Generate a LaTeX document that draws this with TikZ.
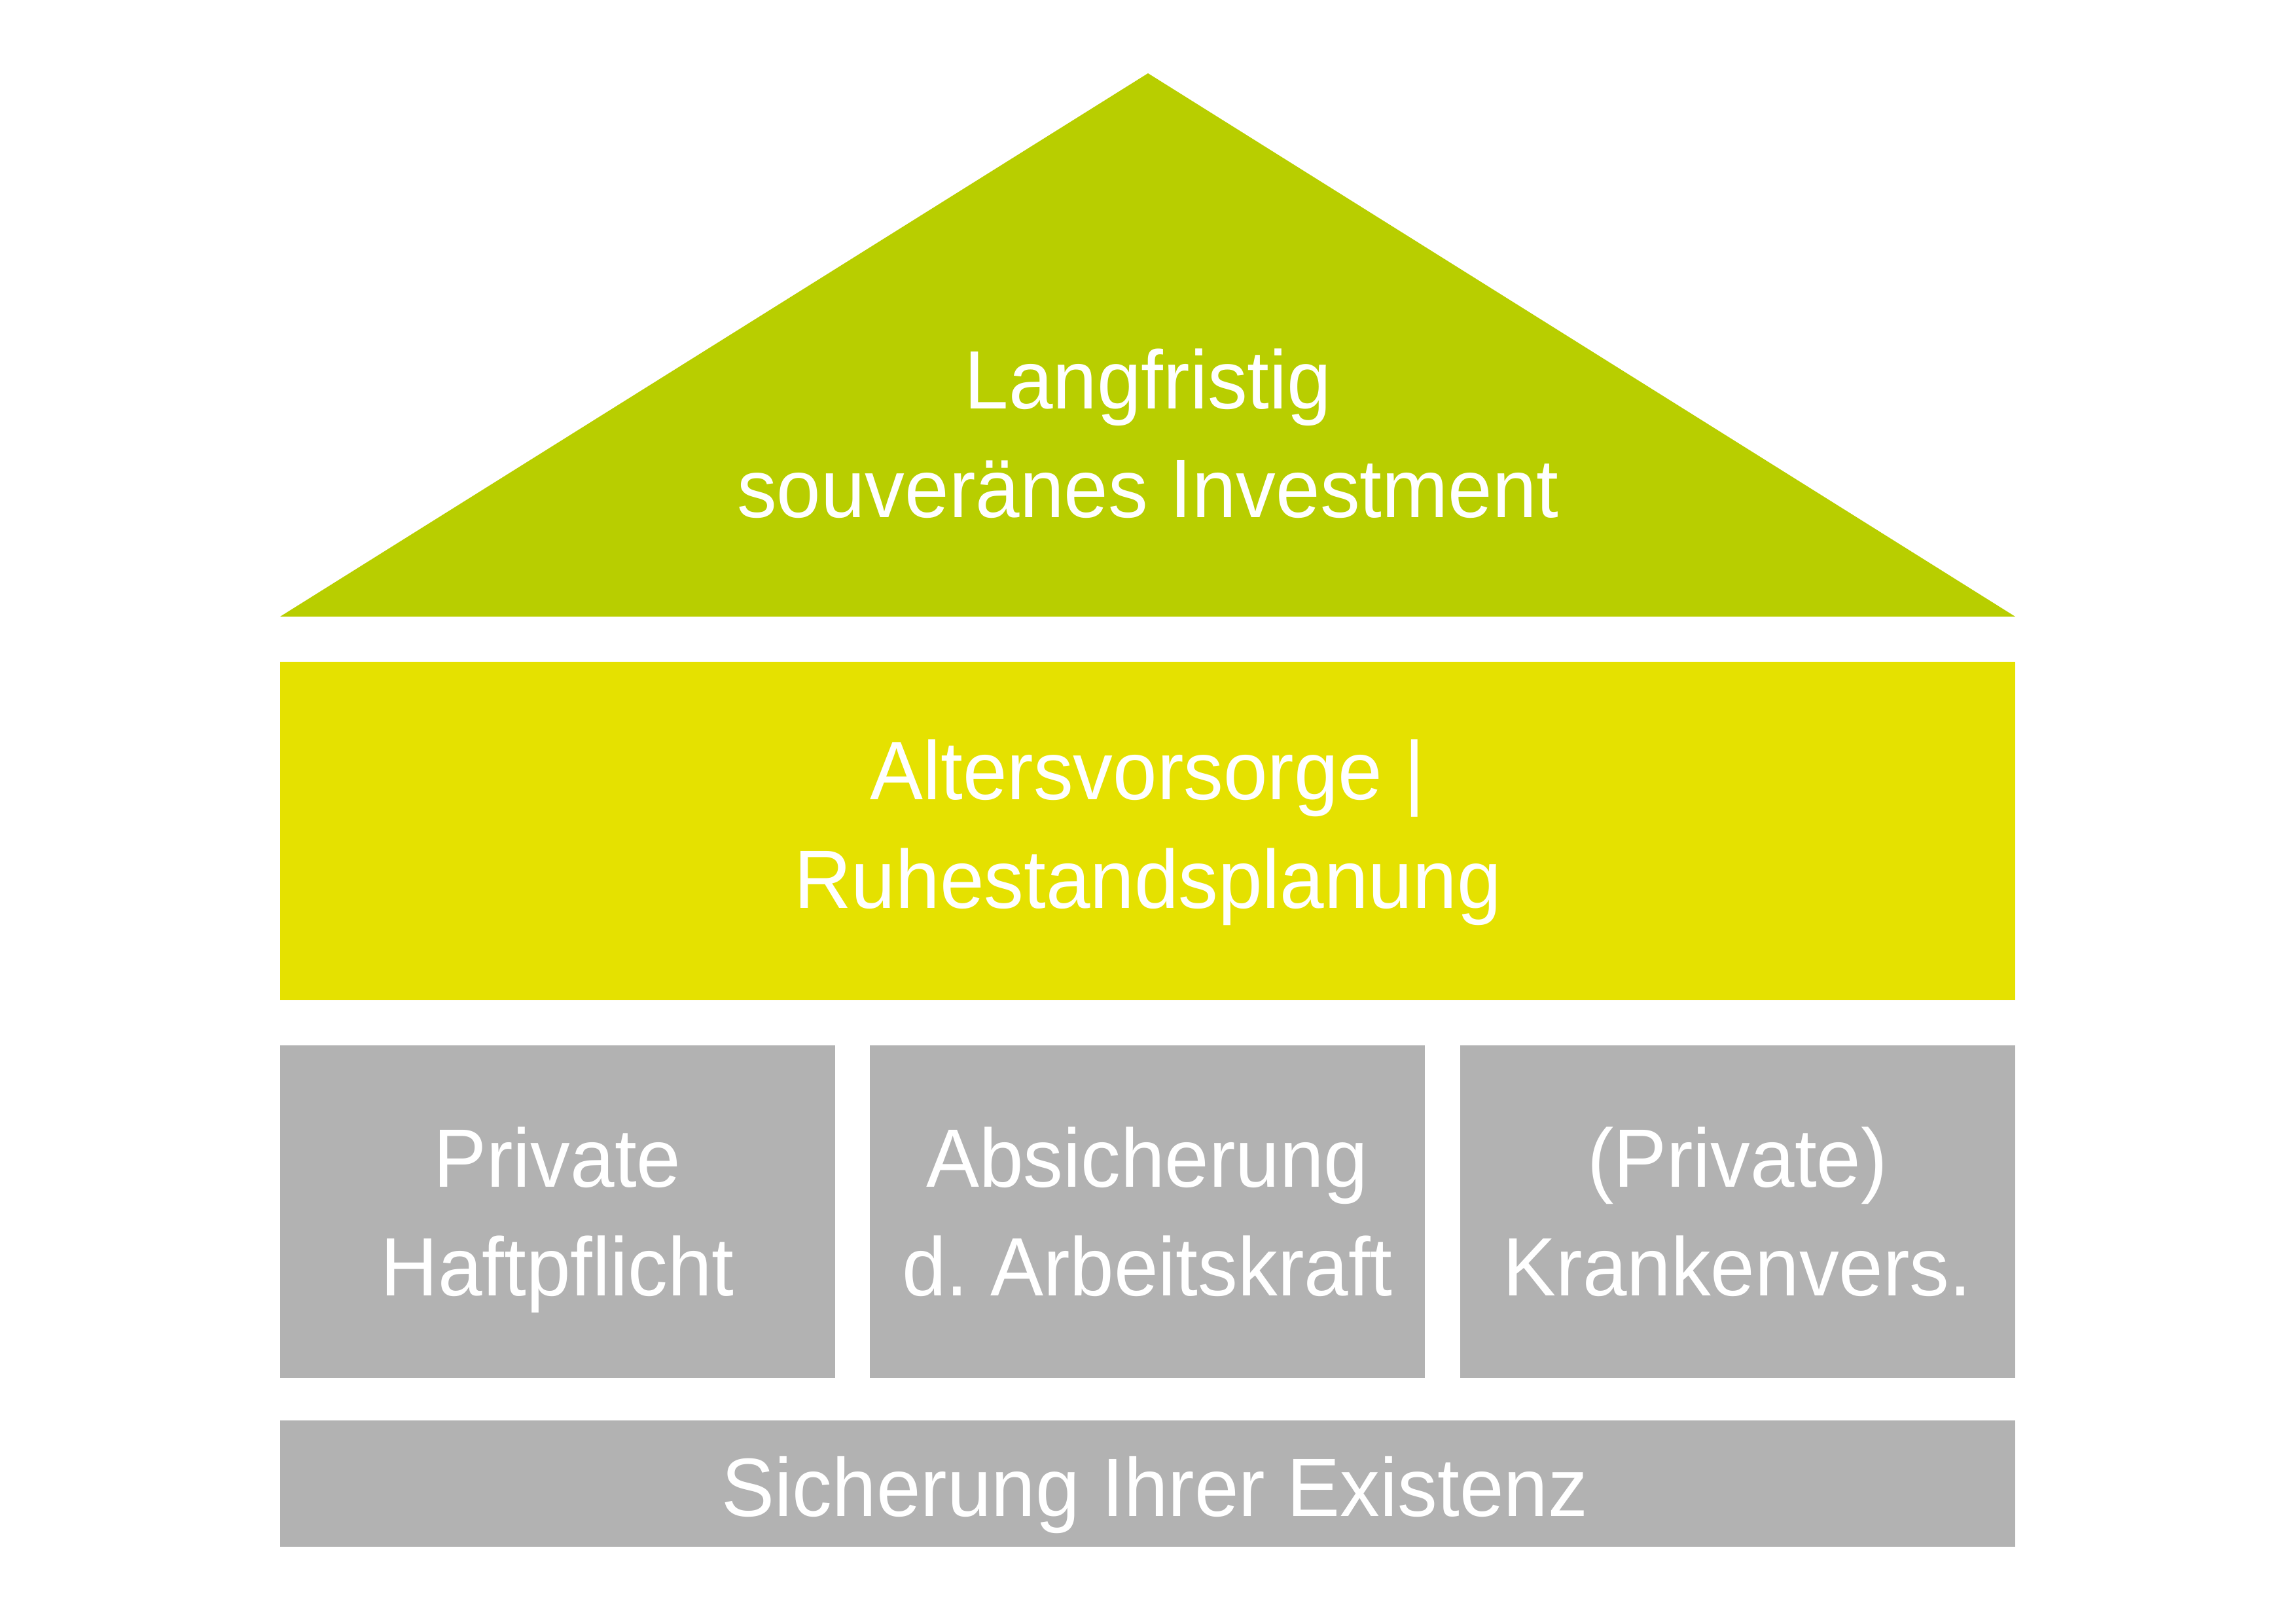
\documentclass[tikz,border=0pt]{standalone}
\usepackage{fontspec}
\setmainfont{Liberation Sans}[FakeStretch=0.96]
\usepackage{tikz}
\usetikzlibrary{positioning}
\frenchspacing

\definecolor{roofgreen}{HTML}{B8CE00}
\definecolor{flooryellow}{HTML}{E5E100}
\definecolor{pillargray}{HTML}{B2B2B2}

\tikzset{
	housetext/.style={text=white,align=center,inner sep=0pt,text depth=0pt,font=\fontsize{36pt}{47.2pt}\selectfont},
	oneline/.style={text height=25.8pt},
	twoline/.style={text height=73pt},
	floorbox/.style={housetext,twoline,fill=flooryellow,minimum width=26.51cm,minimum height=5.17cm},
	pillarbox/.style={housetext,twoline,fill=pillargray,minimum width=8.48cm,minimum height=5.08cm},
	basebox/.style={housetext,oneline,fill=pillargray,minimum width=26.51cm,minimum height=1.93cm}
}

\begin{document}
\begin{tikzpicture}
		\useasboundingbox (0,0) rectangle (35.08,24.80);
		\fill[roofgreen] (4.28,15.38) -- (17.54,23.68) -- (30.79,15.38) -- cycle;
		\node[housetext,twoline] (roof) at (17.54,18.175) {Langfristig\\souveränes Investment};
		\node[floorbox] (alter) at (17.535,12.105) {};
		\node[housetext,twoline] (altertext) at (17.535,12.205) {Altersvorsorge |\\Ruhestandsplanung};
		\node[pillarbox] (haftpflicht) at (8.515,6.29) {Private\\Haftpflicht};
		\node[pillarbox] (arbeitskraft) at (17.53,6.29) {Absicherung\\d. Arbeitskraft};
		\node[pillarbox] (kranken) at (26.545,6.29) {(Private)\\Krankenvers.};
		\node[basebox] (existenz) at (17.535,2.135) {};
		\node[housetext,oneline] (existenztext) at (17.645,2.09) {Sicherung Ihrer Existenz};
	\end{tikzpicture}
\end{document}
